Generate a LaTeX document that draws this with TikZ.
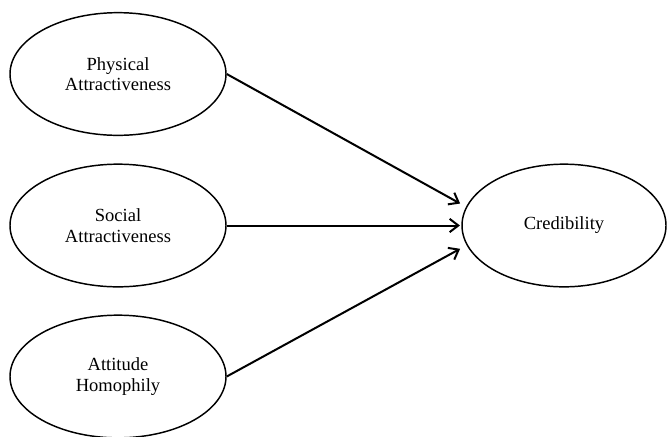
\documentclass[tikz,border=0pt]{standalone}
\usepackage{fontspec}
\setmainfont{Liberation Serif}
\usetikzlibrary{shapes.geometric,arrows.meta}

\begin{document}
\begin{tikzpicture}[x=0.75pt,y=-0.75pt]
        \clip (0,0) rectangle (667,436);
        \useasboundingbox (0,0) rectangle (667,436);
        \begin{scope}[every node/.style={draw,ellipse,line width=1.1pt,inner sep=0pt,align=center,
                font=\fontsize{13.9}{15.5}\selectfont,minimum height=92pt}]
            % Predictors
            \node[minimum width=162pt] (phys) at (118, 74) {Physical\\Attractiveness};
            \node[minimum width=162pt] (soc) at (118, 225.5) {Social\\Attractiveness};
            \node[minimum width=162pt] (att) at (118, 376.5) {Attitude\\Homophily};

            % Outcome
            \node[minimum width=153pt] (cred) at (564, 225.5) {Credibility};
        \end{scope}

        \begin{scope}[line width=1.5pt,shorten >=1pt,-{Straight Barb[length=6.5pt,width=10pt,line width=1.5pt]}]
            \path (phys.east) edge ([yshift=16pt]cred.west);
            \path (soc.east) edge (cred.west);
            \path (att.east) edge ([yshift=-17pt]cred.west);
        \end{scope}
    \end{tikzpicture}
\end{document}
